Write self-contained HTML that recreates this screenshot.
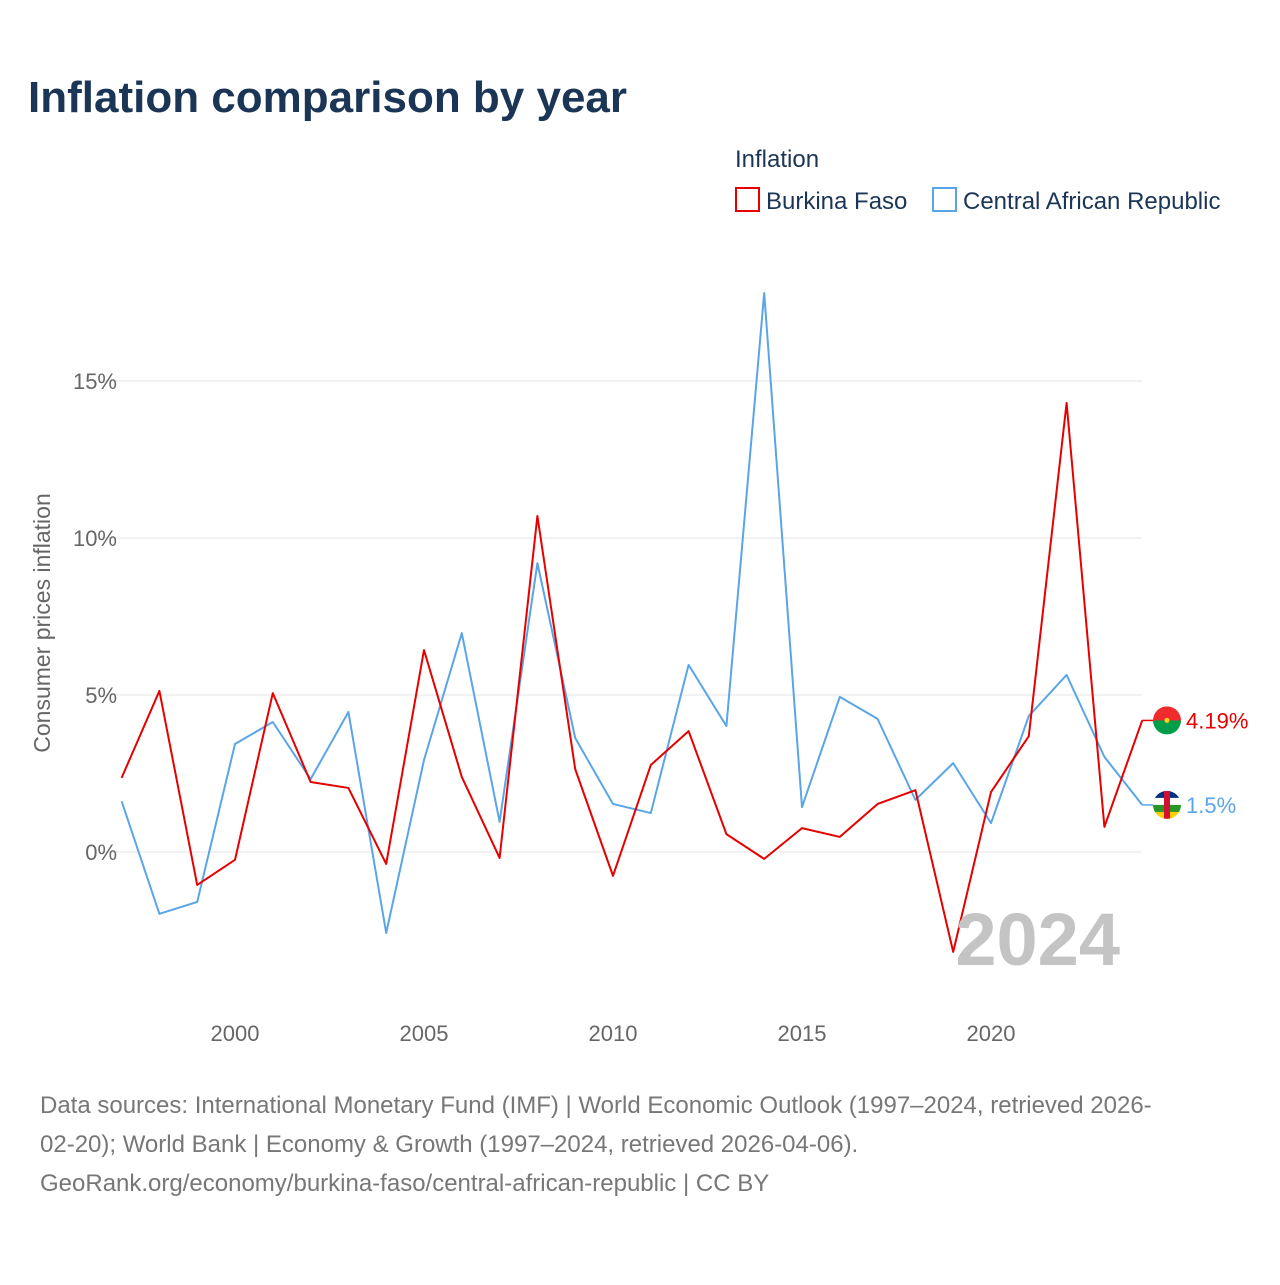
<!DOCTYPE html>
<html><head><meta charset="utf-8">
<style>
body{margin:0;width:1280px;height:1280px;background:#fff;font-family:"Liberation Sans",sans-serif;overflow:hidden}
svg text{font-family:"Liberation Sans",sans-serif}
</style></head>
<body>
<svg id="chart" width="1280" height="1280" viewBox="0 0 1280 1280">
<defs>
<clipPath id="c1"><circle cx="0" cy="0" r="14"/></clipPath>
</defs>
<text x="28" y="112" font-size="44" font-weight="bold" fill="#1b3556">Inflation comparison by year</text>
<text x="735" y="167" font-size="24" fill="#1b3556">Inflation</text>
<g>
<rect x="736" y="188" width="23" height="23" fill="none" stroke="#e60000" stroke-width="2"/>
<text x="766" y="209" font-size="24" fill="#1b3556">Burkina Faso</text></g>
<g>
<rect x="933" y="188" width="23" height="23" fill="none" stroke="#5aa5e8" stroke-width="2"/>
<text x="963" y="209" font-size="24" fill="#1b3556">Central African Republic</text></g>
<text transform="translate(50,623) rotate(-90)" text-anchor="middle" font-size="23" fill="#666">Consumer prices inflation</text>
<g id="grid"></g><g id="xt"></g><g id="series"></g>
<text x="1120" y="965" text-anchor="end" font-size="74" font-weight="bold" fill="#c4c4c4">2024</text>
<g font-size="24" fill="#777">
<text x="40" y="1113">Data sources: International Monetary Fund (IMF) | World Economic Outlook (1997–2024, retrieved 2026-</text>
<text x="40" y="1152">02-20); World Bank | Economy &amp; Growth (1997–2024, retrieved 2026-04-06).</text>
<text x="40" y="1191">GeoRank.org/economy/burkina-faso/central-african-republic | CC BY</text></g>
</svg>
<script>
const years=[1997,1998,1999,2000,2001,2002,2003,2004,2005,2006,2007,2008,2009,2010,2011,2012,2013,2014,2015,2016,2017,2018,2019,2020,2021,2022,2023,2024];
const burkinaFaso=[2.36,5.13,-1.05,-0.25,5.06,2.23,2.04,-0.38,6.43,2.39,-0.19,10.7,2.64,-0.76,2.77,3.85,0.57,-0.22,0.76,0.48,1.53,1.97,-3.18,1.91,3.69,14.3,0.8,4.19];
const car=[1.62,-1.97,-1.59,3.44,4.14,2.32,4.46,-2.58,2.93,6.97,0.96,9.2,3.63,1.53,1.24,5.96,4.01,17.8,1.43,4.94,4.24,1.66,2.83,0.92,4.33,5.64,3.03,1.5];
const yTicks=[0,5,10,15];
const xTicks=[2000,2005,2010,2015,2020];
const NS='http://www.w3.org/2000/svg';
const x=v=>121.6+(v-1997)*37.8;
const y=v=>852-v*31.4;
function mk(t,a,p){const e=document.createElementNS(NS,t);for(const k in a)e.setAttribute(k,a[k]);p.appendChild(e);return e;}
const grid=document.getElementById('grid');
yTicks.forEach(t=>{
 const l=mk('line',{x1:100,x2:1142,y1:y(t),y2:y(t),stroke:'#e6e6e6','stroke-width':1},grid);
 
 
 const tx=mk('text',{x:117,y:y(t)+8,'text-anchor':'end','font-size':22,fill:'#666'},grid);
 tx.textContent=t+'%';
 
 
});
const xt=document.getElementById('xt');
xTicks.forEach(t=>{
 const tx=mk('text',{x:x(t),y:1041,'text-anchor':'middle','font-size':22,fill:'#666'},xt);
 tx.textContent=t;
 
 
});
const sg=document.getElementById('series');
function draw(vals,color,name,label,bands,stripe){
 const pts=vals.map((v,i)=>x(years[i])+','+y(v)).join(' ');
 const pl=mk('polyline',{points:pts,fill:'none',stroke:color,'stroke-width':2,'stroke-linejoin':'round'},sg);
 
 
 const last=vals[vals.length-1],ly=y(last);
 const cn=mk('line',{x1:x(years[years.length-1]),x2:1153,y1:ly,y2:ly,stroke:color,'stroke-width':1.5},sg);
 
 
 const g=mk('g',{transform:'translate(1167,'+ly+')','clip-path':'url(#c1)'},sg);
 
 
 const h=28/bands.length;
 bands.forEach((b,i)=>mk('rect',{x:-14,y:-14+i*h,width:28,height:h+0.5,fill:b},g));
 if(stripe)mk('rect',{x:-3,y:-14,width:6,height:28,fill:stripe},g);
 if(name==='burkina-faso')mk('circle',{cx:0,cy:0,r:2.5,fill:'#fcd116'},g);
 const t=mk('text',{x:1186,y:ly+8,'font-size':22,fill:color},sg);
 t.textContent=label;
 
 
}
draw(car,'#5aa5e8','central-african-republic','1.5%',['#003082','#ffffff','#289728','#ffce00'],'#d21034');
draw(burkinaFaso,'#e60000','burkina-faso','4.19%',['#ef2b2d','#009e49'],null);
</script>
</body></html>
